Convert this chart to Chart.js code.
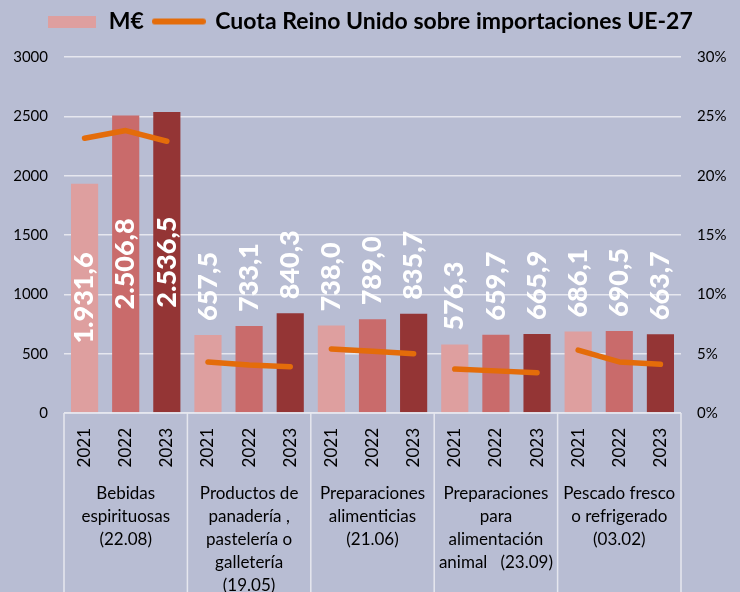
<!DOCTYPE html>
<html>
<head>
<meta charset="utf-8">
<script src="https://cdn.jsdelivr.net/npm/chart.js@4.4.1/dist/chart.umd.min.js"></script>
<style>
html,body{margin:0;padding:0;background:#B8BDD3;}
canvas{display:block;}
</style>
</head>
<body>
<canvas id="c" width="740" height="592"></canvas>
<script>
// ---- data ----
const years = ['2021','2022','2023','2021','2022','2023','2021','2022','2023','2021','2022','2023','2021','2022','2023'];
const groupLabels = [
  ['Bebidas','espirituosas','(22.08)'],
  ['Productos de','panadería ,','pastelería o','galletería','(19.05)'],
  ['Preparaciones','alimenticias','(21.06)'],
  ['Preparaciones','para','alimentación','animal   (23.09)'],
  ['Pescado fresco','o refrigerado','(03.02)']
];
const valuesMEUR = [1931.6, 2506.8, 2536.5, 657.5, 733.1, 840.3, 738.0, 789.0, 835.7, 576.3, 659.7, 665.9, 686.1, 690.5, 663.7];
const shareUK = [23.15, 23.8, 22.9, 4.3, 4.05, 3.9, 5.4, 5.2, 5.0, 3.7, 3.55, 3.4, 5.3, 4.3, 4.1]; // %
const legendNames = ['M€', 'Cuota Reino Unido sobre importaciones UE-27'];

// ---- style ----
const BG = '#B8BDD3';
const YEAR_COLORS = ['#DE9F9F', '#C96B6B', '#943535'];
const LINE_COLOR = '#E46C0A';
const GRID = '#E6E7EF';
const FONT = 'Lato';

function fmtES(v){
  const parts = v.toFixed(1).split('.');
  const intp = parts[0].replace(/\B(?=(\d{3})+(?!\d))/g, '.');
  return intp + ',' + parts[1];
}
function mk(w,h,draw){const c=document.createElement('canvas');c.width=w;c.height=h;draw(c.getContext('2d'));return c;}
const boxImg = mk(48,12,g=>{g.fillStyle=YEAR_COLORS[0];g.fillRect(0,0,48,12);});
const lineImg = mk(54,8,g=>{g.strokeStyle=LINE_COLOR;g.lineWidth=6;g.lineCap='round';g.beginPath();g.moveTo(3,4);g.lineTo(51,4);g.stroke();});

const bgPlugin = {
  id:'bg',
  beforeDraw(chart){const c=chart.ctx;c.save();c.fillStyle=BG;c.fillRect(0,0,chart.width,chart.height);c.restore();}
};
const legendFit = {
  id:'legendFit',
  beforeInit(chart){
    const lg = chart.legend; if(!lg) return;
    const orig = lg.fit;
    lg.fit = function(){ orig.call(this); this.height = 57; };
  }
};
const labelsPlugin = {
  id:'barLabels',
  afterDatasetsDraw(chart){
    const meta = chart.getDatasetMeta(0);
    const ctx = chart.ctx;
    ctx.save();
    ctx.fillStyle = '#FFFFFF';
    ctx.font = '900 27px ' + FONT;
    ctx.textBaseline = 'middle';
    meta.data.forEach((bar,i)=>{
      const v = valuesMEUR[i];
      const inside = v >= 1500;
      ctx.save();
      ctx.translate(bar.x, inside ? (bar.y + bar.base)/2 : bar.y - 14);
      ctx.rotate(-Math.PI/2);
      ctx.textAlign = inside ? 'center' : 'left';
      ctx.fillText(fmtES(v), 0, 0);
      ctx.restore();
    });
    ctx.restore();
  }
};
const groupsPlugin = {
  id:'groups',
  afterDraw(chart){
    const ctx = chart.ctx, xs = chart.scales.x, a = chart.chartArea;
    ctx.save();
    ctx.strokeStyle = GRID; ctx.lineWidth = 1.5;
    ctx.beginPath();
    ctx.moveTo(a.left, a.bottom); ctx.lineTo(a.right, a.bottom);
    for(let g=0; g<=groupLabels.length; g++){
      let x;
      if(g===0) x = a.left;
      else if(g===groupLabels.length) x = a.right;
      else x = (xs.getPixelForValue(g*3-1) + xs.getPixelForValue(g*3))/2;
      ctx.moveTo(x, a.bottom); ctx.lineTo(x, chart.height);
    }
    ctx.stroke();
    ctx.fillStyle = '#000';
    ctx.font = '17px ' + FONT;
    ctx.textAlign = 'center';
    ctx.textBaseline = 'middle';
    groupLabels.forEach((lines,g)=>{
      const cx = xs.getPixelForValue(g*3+1);
      lines.forEach((t,k)=>{ ctx.fillText(t, cx, a.bottom + 81 + k*23); });
    });
    ctx.restore();
  }
};

function build(){
  new Chart(document.getElementById('c'), {
    data: {
      labels: years,
      datasets: [
        {
          type:'bar',
          label: legendNames[0],
          data: valuesMEUR,
          backgroundColor: valuesMEUR.map((_,i)=>YEAR_COLORS[i%3]),
          barPercentage: 0.66,
          categoryPercentage: 1.0,
          yAxisID: 'y',
          order: 2
        },
        {
          type:'line',
          label: legendNames[1],
          data: shareUK.map(v=>v/100),
          borderColor: LINE_COLOR,
          borderWidth: 5.5,
          borderCapStyle: 'round',
          borderJoinStyle: 'round',
          pointRadius: 0,
          tension: 0,
          fill: false,
          yAxisID: 'y1',
          order: 1,
          segment: {
            borderColor: ctx => (ctx.p0DataIndex % 3 === 2 ? 'rgba(0,0,0,0)' : undefined)
          }
        }
      ]
    },
    options: {
      responsive: false,
      animation: false,
      devicePixelRatio: 1,
      layout: { padding: 0 },
      plugins: {
        tooltip: { enabled:false },
        legend: {
          position: 'top',
          labels: {
            usePointStyle: true,
            pointStyleWidth: 50,
            padding: 10,
            color: '#000',
            font: { family: FONT, size: 23, weight: 'bold' },
            generateLabels: () => [
              { text: legendNames[0], pointStyle: boxImg, fillStyle: YEAR_COLORS[0], strokeStyle: 'rgba(0,0,0,0)', lineWidth: 0, datasetIndex: 0, fontColor:'#000' },
              { text: legendNames[1], pointStyle: lineImg, fillStyle: LINE_COLOR, strokeStyle: 'rgba(0,0,0,0)', lineWidth: 0, datasetIndex: 1, fontColor:'#000' }
            ]
          }
        }
      },
      scales: {
        x: {
          type: 'category',
          grid: { display:false, drawTicks:false },
          border: { display:false },
          ticks: {
            autoSkip: false, minRotation: 90, maxRotation: 90, padding: 15,
            color: '#000', font: { family: FONT, size: 17 }
          },
          afterFit(s){ s.height = 179; }
        },
        y: {
          position: 'left', min: 0, max: 3000,
          grid: { color: GRID, lineWidth: 1.5, drawTicks:false },
          border: { display:false },
          ticks: { stepSize: 500, padding: 16, color:'#000', font:{ family: FONT, size: 15 },
            callback: v => String(v) },
          afterFit(s){ s.width = 64; }
        },
        y1: {
          position: 'right', min: 0, max: 0.30,
          grid: { display:false, drawTicks:false },
          border: { display:false },
          ticks: { stepSize: 0.05, padding: 16, color:'#000', font:{ family: FONT, size: 15 },
            callback: v => Math.round(v*100) + '%' },
          afterFit(s){ s.width = 59; }
        }
      }
    },
    plugins: [bgPlugin, legendFit, labelsPlugin, groupsPlugin]
  });
}
Promise.all([
  document.fonts.load('17px Lato'),
  document.fonts.load('900 27px Lato')
]).then(build, build);
</script>
</body>
</html>
